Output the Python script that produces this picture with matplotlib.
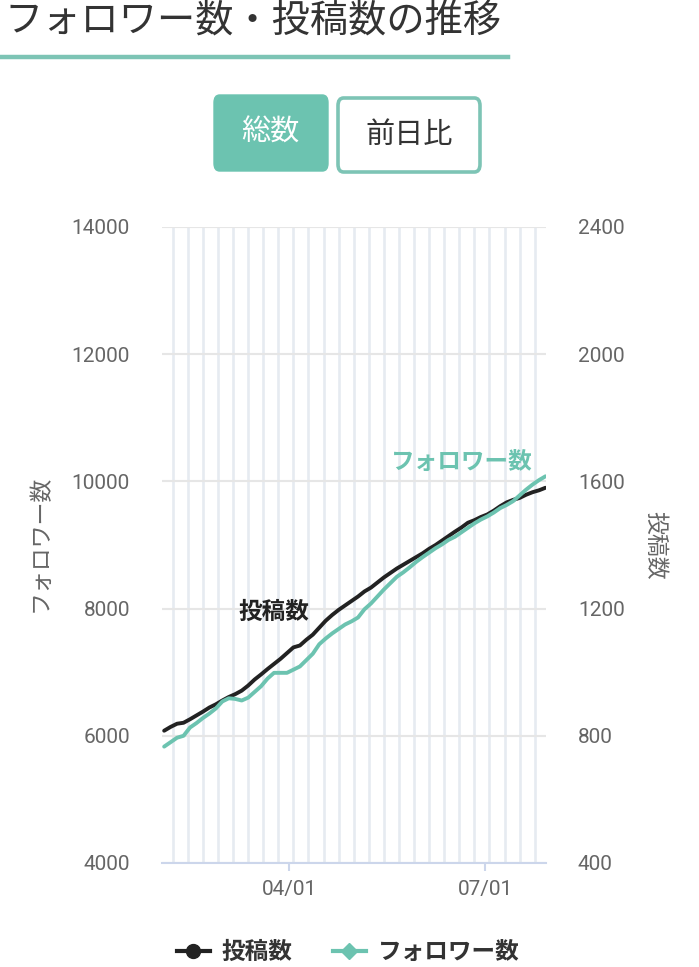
import matplotlib
matplotlib.use('Agg')
import matplotlib.pyplot as plt
import matplotlib.dates as mdates
from matplotlib.patches import FancyBboxPatch
from matplotlib.lines import Line2D
import pandas as pd

plt.rcParams['font.family'] = ['Roboto', 'Noto Sans CJK JP', 'DejaVu Sans']

# ---------------- data ----------------
dates = pd.date_range('2024-02-03', periods=60, freq='3D')

posts = [816, 828, 838, 841, 852, 864, 876, 889, 899, 911,
         922, 931, 942, 958, 977, 993, 1010, 1026, 1042, 1060,
         1078, 1084, 1102, 1118, 1140, 1162, 1180, 1196, 1210, 1224,
         1238, 1254, 1266, 1282, 1298, 1312, 1326, 1338, 1350, 1362,
         1374, 1388, 1400, 1414, 1428, 1442, 1455, 1470, 1478, 1488,
         1496, 1508, 1522, 1534, 1542, 1548, 1558, 1566, 1572, 1580]

followers = [5830, 5900, 5970, 6000, 6130, 6200, 6280, 6350, 6430, 6540,
             6590, 6580, 6555, 6600, 6690, 6780, 6900, 6990, 6990, 6990,
             7040, 7090, 7190, 7290, 7440, 7530, 7610, 7680, 7750, 7800,
             7860, 7990, 8080, 8190, 8300, 8400, 8500, 8570, 8650, 8735,
             8810, 8880, 8950, 9010, 9080, 9130, 9200, 9270, 9340, 9400,
             9450, 9510, 9580, 9630, 9690, 9780, 9870, 9950, 10020, 10080]

follower_ticks = [4000, 6000, 8000, 10000, 12000, 14000]
post_ticks = [400, 800, 1200, 1600, 2000, 2400]
x_ticks = ['2024-04-01', '2024-07-01']

title = 'フォロワー数・投稿数の推移'
follower_label = 'フォロワー数'
post_label = '投稿数'

TEAL = '#6cc3b0'
DARK = '#222222'
GRAY = '#666666'
CJK = ['Noto Sans CJK JP', 'DejaVu Sans']

# ---------------- figure ----------------
W, H = 699, 967
fig = plt.figure(figsize=(W / 100, H / 100), dpi=100)

def fx(px):
    return px / W

def fy(py):
    return 1 - py / H

# title + underline
fig.text(fx(4), fy(22), title, fontsize=27.5, color='#333333', ha='left', va='center',
         family=CJK)
fig.add_artist(Line2D([fx(2), fx(508)], [fy(57), fy(57)], color='#7dc4b5', lw=3.2,
                      transform=fig.transFigure))

# buttons
b1 = FancyBboxPatch((fx(214), fy(171)), fx(328) - fx(214), fy(95) - fy(171),
                    boxstyle='round,pad=0,rounding_size=0.008', transform=fig.transFigure,
                    facecolor=TEAL, edgecolor=TEAL, lw=1)
fig.add_artist(b1)
fig.text(fx(270), fy(133), '総数', fontsize=21, color='white', ha='center', va='center',
         family=CJK)
b2 = FancyBboxPatch((fx(338), fy(172)), fx(480) - fx(338), fy(98) - fy(172),
                    boxstyle='round,pad=0,rounding_size=0.008', transform=fig.transFigure,
                    facecolor='white', edgecolor='#7dc4b5', lw=2.6)
fig.add_artist(b2)
fig.text(fx(409), fy(135), '前日比', fontsize=21, color='#333333', ha='center', va='center',
         family=CJK)

# axes
left, right, top, bottom = 162, 546, 227, 863
ax = fig.add_axes([fx(left), fy(bottom), fx(right) - fx(left), fy(top) - fy(bottom)])
ax2 = ax.twinx()
# posts axis drawn underneath followers axis
ax2.set_zorder(ax.get_zorder() - 1)
ax.patch.set_visible(False)
ax2.xaxis.set_visible(True)

ax2.plot(dates, posts, color=DARK, lw=2.8, solid_capstyle='round')
ax.plot(dates, followers, color=TEAL, lw=2.8, solid_capstyle='round')

ax.set_ylim(follower_ticks[0], follower_ticks[-1])
ax2.set_ylim(post_ticks[0], post_ticks[-1])
ax.set_yticks(follower_ticks)
ax.set_yticklabels([str(v) for v in follower_ticks])
ax2.set_yticks(post_ticks)
ax2.set_yticklabels([str(v) for v in post_ticks])

ax.set_xlim(pd.Timestamp('2024-02-02'), pd.Timestamp('2024-07-29 06:00'))
ax.set_xticks(pd.to_datetime(x_ticks))
ax.xaxis.set_major_formatter(mdates.DateFormatter('%m/%d'))
ax.xaxis.set_minor_locator(mdates.WeekdayLocator(byweekday=mdates.WE))

for a in (ax, ax2):
    for s in ('top', 'left', 'right', 'bottom'):
        a.spines[s].set_visible(False)

ax.spines['bottom'].set_visible(True)
ax.spines['bottom'].set_color('#ccd6eb')
ax.spines['bottom'].set_linewidth(1.5)

# grid on lower axis
ax.grid(False)
ax2.yaxis.grid(True, color='#e6e6e6', lw=1.5)
ax2.xaxis.grid(True, which='minor', color='#e6ebf1', lw=1.9)
ax2.xaxis.grid(False, which='major')
ax2.set_axisbelow(True)

ax.tick_params(axis='y', length=0, pad=23, labelsize=15, labelcolor=GRAY)
ax2.tick_params(axis='y', length=0, pad=23, labelsize=15, labelcolor=GRAY)
ax.tick_params(axis='x', which='major', length=6, width=1.5, color='#ccd6eb', pad=6,
               labelsize=15, labelcolor=GRAY)
ax.tick_params(axis='x', which='minor', length=0)
ax2.tick_params(axis='x', which='both', length=0, labelbottom=False, labeltop=False)

# axis titles
fig.text(fx(40), fy(543), follower_label, rotation=90, fontsize=16.5, color=GRAY,
         ha='center', va='center', family=CJK)
fig.text(fx(655), fy(545), post_label, rotation=270, fontsize=16.5, color=GRAY,
         ha='center', va='center', family=CJK)

# series labels
fig.text(fx(462), fy(462), follower_label, fontsize=17, fontweight='bold', color=TEAL,
         ha='center', va='center', family=CJK)
fig.text(fx(274), fy(612), post_label, fontsize=17, fontweight='bold', color=DARK,
         ha='center', va='center', family=CJK)

# legend
handles = [Line2D([], [], color=DARK, lw=3, marker='o', markersize=10),
           Line2D([], [], color=TEAL, lw=3, marker='D', markersize=8)]
leg = fig.legend(handles, [post_label, follower_label], loc='center',
                 bbox_to_anchor=(fx(348), fy(952)), ncol=2, frameon=False,
                 handlelength=1.4, handletextpad=0.5, columnspacing=1.7,
                 prop={'family': CJK, 'weight': 'bold', 'size': 17})
for t in leg.get_texts():
    t.set_color('#333333')

fig.savefig('out.png', dpi=100)
